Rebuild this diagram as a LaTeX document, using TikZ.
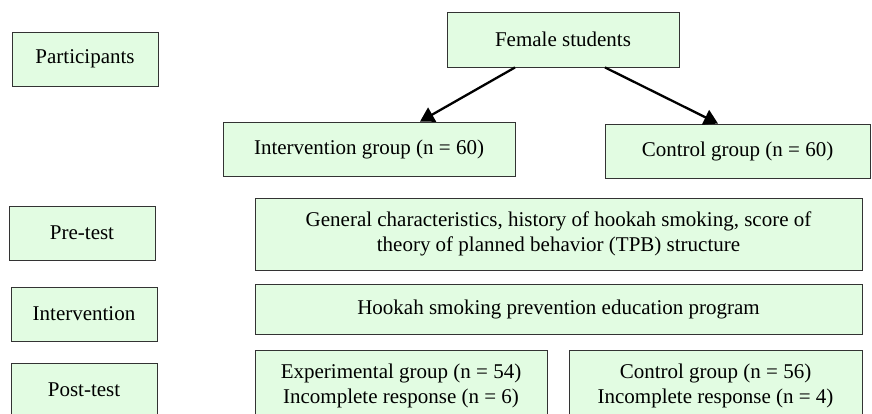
\documentclass[tikz,border=0pt]{standalone}
\usepackage{fontspec}
\setmainfont{Liberation Serif}
\usetikzlibrary{arrows.meta}
\definecolor{boxgreen}{RGB}{226,252,226}
\tikzset{
  box/.style={draw=black!80, fill=boxgreen, line width=0.9pt, align=center,
    inner sep=0pt, font=\fontsize{21}{25}\selectfont},
  stagebox/.style={box, minimum width=146pt, minimum height=54pt},
  arr/.style={line width=2.3pt, -{Triangle[width=16pt,length=14pt]}}
}
\begin{document}
\begin{tikzpicture}[x=1pt,y=-1pt]
  \useasboundingbox (0,0) rectangle (872,414);
  \clip (0,0) rectangle (872,414);
  % stages on the left
  \node[stagebox] (part) at (85,59) {Participants};
  \node[stagebox] (pre) at (82,233) {Pre-test};
  \node[stagebox] (interv) at (84,314) {Intervention};
  \node[stagebox] (post) at (84,390) {Post-test};
  % groups
  \node[box, minimum width=232pt, minimum height=55pt] (female) at (563,39.5) {Female students};
  \node[box, minimum width=292pt, minimum height=54pt] (intgrp) at (369,149) {Intervention group (n = 60)};
  \node[box, minimum width=265pt, minimum height=54pt] (ctrlgrp) at (737.5,151) {Control group (n = 60)};
  \node[box, minimum width=607pt, minimum height=72pt] (preinfo) at (558.5,234)
    {General characteristics, history of hookah smoking, score of\\theory of planned behavior (TPB) structure};
  \node[box, minimum width=607pt, minimum height=50pt] (program) at (558.5,309)
    {Hookah smoking prevention education program};
  \node[box, minimum width=292pt, minimum height=72pt] (expgrp) at (401,386)
    {Experimental group (n = 54)\\Incomplete response (n = 6)};
  \node[box, minimum width=293pt, minimum height=72pt] (ctrlpost) at (715.5,386)
    {Control group (n = 56)\\Incomplete response (n = 4)};
  % split
  \draw[arr] ([xshift=-48pt]female.south) -- ([xshift=51pt]intgrp.north);
  \draw[arr] ([xshift=42pt]female.south) -- ([xshift=-19.5pt]ctrlgrp.north);
\end{tikzpicture}
\end{document}
